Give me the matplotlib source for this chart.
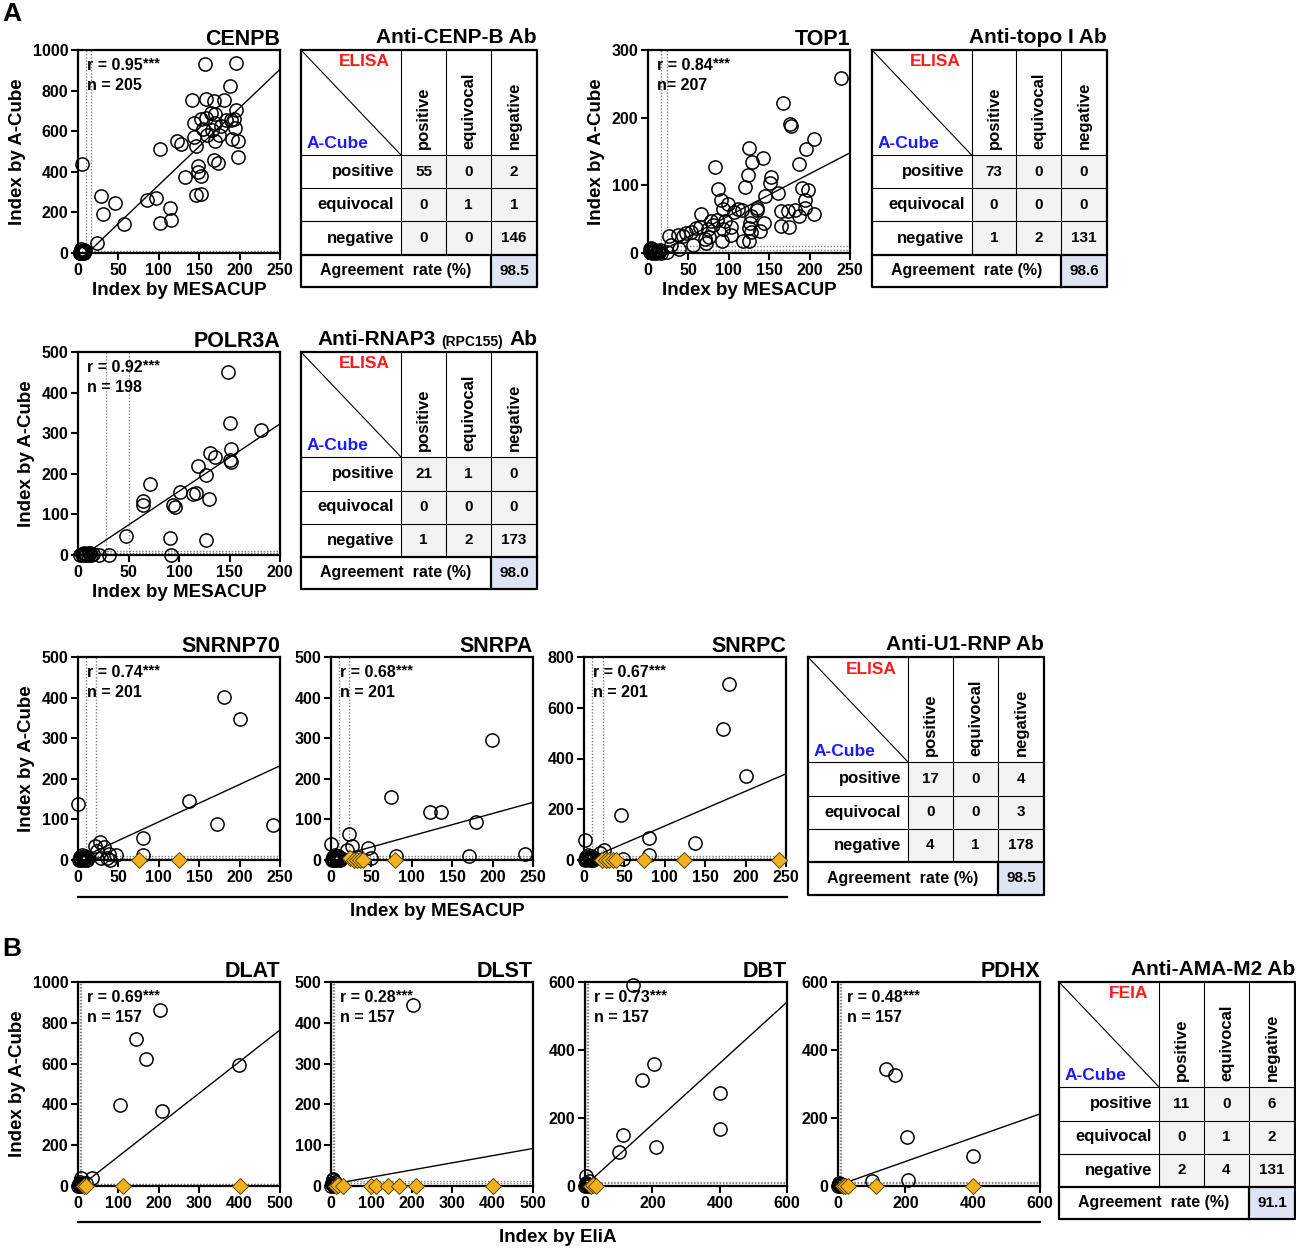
import numpy as np
import matplotlib
matplotlib.use('Agg')
import matplotlib.pyplot as plt
from matplotlib.patches import Rectangle
from matplotlib.lines import Line2D

plt.rcParams['font.family'] = ['Liberation Sans', 'DejaVu Sans']
plt.rcParams['font.weight'] = 'bold'
plt.rcParams['axes.labelweight'] = 'bold'
plt.rcParams['axes.titleweight'] = 'bold'

W, H = 1296, 1248

# ---------------- data ----------------
# CENPB
cenpb_x = [5, 28, 31, 46, 57, 24, 86, 96, 102, 102, 114, 115, 123, 128, 132, 141, 143, 144, 146, 146,
           149, 148, 152, 152, 157, 158, 152, 155, 158, 160, 166, 164, 168, 170, 170, 170, 168, 173,
           175, 177, 181, 183, 188, 189, 190, 193, 194, 195, 196, 198, 198,
           2, 3, 4, 5, 6, 7, 8, 9, 4, 6, 3, 8]
cenpb_y = [439, 282, 191, 246, 144, 48, 259, 269, 513, 149, 224, 162, 551, 536, 376, 754, 640, 571, 525, 285,
           431, 398, 378, 292, 929, 759, 660, 611, 667, 582, 607, 690, 751, 686, 640, 550, 459, 442,
           582, 627, 756, 657, 825, 657, 564, 662, 616, 936, 703, 475, 554,
           0, 5, 12, 2, 8, 0, 4, 10, 18, 3, 0, 15]
cenpb_fit = (3.8, -45)

# TOP1
top1_x = [239, 167, 176, 177, 205, 196, 125, 129, 142, 83, 124, 120, 187, 152, 151, 161, 190, 198, 194, 194,
          205, 187, 173, 165, 182, 175, 164, 87, 90, 99, 93, 107, 112, 116, 135, 135, 145, 144, 138, 126,
          127, 125, 128, 117, 125, 93, 95, 92, 103, 103, 78, 80, 74, 85, 64, 65, 60, 53, 47, 43, 37, 26,
          56, 72, 76, 71, 38, 29, 23, 12, 4,
          2, 3, 5, 6, 8, 9, 10, 12, 14, 15, 4, 7, 16]
top1_y = [258, 222, 191, 187, 169, 154, 155, 134, 140, 127, 116, 97, 131, 113, 103, 88, 96, 93, 78, 66,
          58, 54, 62, 62, 64, 39, 40, 95, 78, 72, 65, 60, 65, 64, 67, 64, 84, 45, 33, 44,
          54, 37, 31, 18, 18, 36, 47, 17, 39, 27, 47, 42, 35, 49, 39, 57, 37, 31, 30, 25, 27, 25,
          12, 15, 23, 20, 6, 12, 1, 3, 6,
          2, 6, 0, 4, 1, 5, 0, 3, 1, 4, 8, 2, 0]
top1_fit = (0.62, -7)

# POLR3A
polr3a_x = [149, 150, 151, 150, 151, 181, 131, 136, 119, 127, 130, 114, 117, 101, 71, 64, 64, 94, 96,
            48, 91, 127, 92, 31, 21,
            2, 4, 5, 7, 8, 10, 12, 13, 15, 6, 11]
polr3a_y = [451, 326, 262, 233, 230, 308, 251, 241, 220, 197, 138, 150, 152, 154, 174, 132, 123, 123, 117,
            46, 41, 37, 0, 0, 0,
            0, 2, 0, 3, 0, 1, 4, 0, 2, 5, 6]
polr3a_fit = (1.66, -9)

# SNRNP70
snrnp70_x = [181, 200, 137, 172, 241, 0, 81, 81, 27, 21, 32, 24, 38, 47, 28, 40, 36,
             1, 2, 3, 4, 5, 6, 7, 8, 9, 10, 11, 12]
snrnp70_y = [401, 347, 146, 88, 86, 137, 55, 12, 44, 35, 33, 21, 15, 12, 4, 0, 6,
             0, 3, 8, 1, 12, 4, 0, 6, 10, 2, 0, 5]
snrnp70_dx = [75, 125]
snrnp70_dy = [0, 0]
snrnp70_fit = (0.92, 2)

# SNRPA
snrpa_x = [199, 74, 123, 136, 179, 171, 240, 0, 22, 26, 20, 46, 49, 80, 32,
           1, 2, 3, 4, 5, 6, 7, 8, 9, 10, 11, 12]
snrpa_y = [296, 155, 119, 119, 93, 9, 16, 40, 65, 35, 25, 30, 5, 9, 8,
           0, 3, 8, 1, 12, 4, 0, 6, 10, 2, 0, 5]
snrpa_dx = [24, 28, 32, 36, 39, 79]
snrpa_dy = [4, 0, 0, 0, 0, 0]
snrpa_fit = (0.55, 4.5)

# SNRPC
snrpc_x = [180, 172, 201, 46, 137, 81, 81, 1, 25, 20, 48,
           1, 2, 3, 4, 5, 6, 7, 8, 9, 10, 11, 12]
snrpc_y = [693, 517, 333, 176, 66, 86, 20, 79, 39, 26, 3,
           0, 5, 12, 2, 18, 6, 0, 9, 14, 3, 0, 7]
snrpc_dx = [22, 27, 31, 36, 40, 74, 124, 241]
snrpc_dy = [0, 0, 0, 0, 0, 0, 0, 0]
snrpc_fit = (1.37, -3)

# DLAT
dlat_x = [203, 143, 169, 104, 209, 399, 34, 8, 19,
          1, 2, 3, 4, 5, 6, 8, 10, 12, 15]
dlat_y = [862, 720, 623, 395, 367, 593, 41, 41, 16,
          0, 5, 12, 2, 20, 8, 0, 3, 10, 5]
dlat_dx = [15, 20, 112, 401]
dlat_dy = [0, 2, 0, 0]
dlat_fit = (1.55, -10)

# DLST
dlst_x = [202, 1, 2, 3, 4, 5, 6, 7, 8, 9, 10]
dlst_y = [443, 0, 4, 8, 14, 2, 18, 6, 0, 10, 3]
dlst_dx = [13, 18, 30, 100, 112, 142, 168, 210, 401]
dlst_dy = [0, 2, 0, 0, 0, 0, 0, 0, 0]
dlst_fit = (0.176, 4)

# DBT
dbt_x = [143, 204, 170, 401, 401, 112, 102, 210, 4, 12,
         1, 2, 3, 5, 6, 8, 10, 14]
dbt_y = [590, 358, 313, 273, 168, 151, 99, 114, 28, 15,
         0, 4, 10, 2, 7, 0, 5, 2]
dbt_dx = [17, 25, 34]
dbt_dy = [0, 2, 0]
dbt_fit = (0.9, 1)

# PDHX
pdhx_x = [143, 170, 204, 400, 101, 209,
          1, 2, 3, 5, 6, 8, 10, 14]
pdhx_y = [343, 326, 144, 87, 15, 17,
          0, 4, 10, 2, 7, 0, 5, 2]
pdhx_dx = [15, 22, 31, 113, 400]
pdhx_dy = [0, 0, 0, 0, 0]
pdhx_fit = (0.35, 2)

# concordance tables
cenpb_table = [[55, 0, 2], [0, 1, 1], [0, 0, 146]]
cenpb_rate = 98.5
topo_table = [[73, 0, 0], [0, 0, 0], [1, 2, 131]]
topo_rate = 98.6
rnap_table = [[21, 1, 0], [0, 0, 0], [1, 2, 173]]
rnap_rate = 98.0
u1_table = [[17, 0, 4], [0, 0, 3], [4, 1, 178]]
u1_rate = 98.5
ama_table = [[11, 0, 6], [0, 1, 2], [2, 4, 131]]
ama_rate = 91.1
categories = ['positive', 'equivocal', 'negative']

GOLD = '#F2B01E'
DOT = dict(color='#808080', lw=1.0, ls=(0, (1, 1.3)), zorder=1)

fig = plt.figure(figsize=(W / 100, H / 100), dpi=100)


def px_rect(x0, y0, x1, y1):
    return [x0 / W, 1 - y1 / H, (x1 - x0) / W, (y1 - y0) / H]


def scatter_panel(box, name, x, y, fit, xmax, ymax, xstep, ystep, vcut, hcut, r, n,
                  dx=None, dy=None, xlabel=None, ylabel=True):
    ax = fig.add_axes(px_rect(*box))
    for v in vcut:
        ax.axvline(v, **DOT)
    for h in hcut:
        ax.axhline(h, **DOT)
    xs = np.array([0, xmax])
    ax.plot(xs, fit[0] * xs + fit[1], color='black', lw=1.0, zorder=2)
    ax.plot(x, y, 'o', ms=9.5, mfc='none', mec='black', mew=1.1, clip_on=False, zorder=3)
    if dx is not None:
        ax.plot(dx, dy, 'D', ms=8.5, mfc=GOLD, mec='#5a4500', mew=0.7, clip_on=False, zorder=4)
    ax.set_xlim(0, xmax)
    ax.set_ylim(0, ymax)
    ax.set_xticks(np.arange(0, xmax + 1, xstep))
    ax.set_yticks(np.arange(0, ymax + 1, ystep))
    ax.tick_params(direction='out', length=5, width=1.5, labelsize=11.5, pad=2)
    for s in ax.spines.values():
        s.set_linewidth(1.6)
    ax.set_title(name, loc='right', fontsize=15.5, pad=1)
    t = ax.text(0.045, 0.925, r, transform=ax.transAxes, va='center', fontsize=11.5)
    ax.annotate('***', xy=(1, 0.62), xycoords=t, va='center', fontsize=10.5)
    ax.text(0.045, 0.825, n, transform=ax.transAxes, va='center', fontsize=11.5)
    if ylabel:
        ax.set_ylabel('Index by A-Cube', fontsize=13.5, labelpad=5)
    if xlabel:
        ax.set_xlabel(xlabel, fontsize=13.5, labelpad=3)
    return ax


def draw_table(box, title, method, counts, rate, small=None):
    ax = fig.add_axes(px_rect(*box))
    w = box[2] - box[0]
    h = box[3] - box[1]
    ax.set_xlim(0, w)
    ax.set_ylim(h, 0)
    ax.axis('off')
    k = w / 236
    cols = [0, 100 * k, 145 * k, 190 * k, w]
    rows = [0, 105, 138.5, 171.5, 205, h]
    for i in range(3):
        for j in range(3):
            ax.add_patch(Rectangle((cols[j + 1], rows[i + 1]), cols[j + 2] - cols[j + 1],
                                   rows[i + 2] - rows[i + 1], fc='#f3f3f3', ec='none'))
    ax.add_patch(Rectangle((cols[3], rows[4]), cols[4] - cols[3], rows[5] - rows[4],
                           fc='#dde5f5', ec='none'))
    thin = dict(color='black', lw=0.8, clip_on=False)
    thick = dict(color='black', lw=1.6, clip_on=False)
    for c in cols[1:4]:
        ax.plot([c, c], [0, rows[4]], **thin)
    for r_ in rows[1:4]:
        ax.plot([0, w], [r_, r_], **thin)
    ax.plot([0, w], [rows[4], rows[4]], **thick)
    ax.plot([cols[3], cols[3]], [rows[4], h], **thick)
    ax.plot([0, w, w, 0, 0], [0, 0, h, h, 0], **thick)
    ax.plot([0, cols[1]], [0, rows[1]], **thin)
    ax.text(cols[1] - 11, 12, method, color='#ff1a1a', ha='right', va='center', fontsize=12.5)
    ax.text(6, 94, 'A-Cube', color='#1a1aff', ha='left', va='center', fontsize=12.5)
    for j, cat in enumerate(categories):
        cx = (cols[j + 1] + cols[j + 2]) / 2
        ax.text(cx, rows[1] - 6, cat, rotation=90, ha='center', va='bottom', fontsize=12)
        cy = (rows[j + 1] + rows[j + 2]) / 2
        ax.text(cols[1] - 7, cy, cat, ha='right', va='center', fontsize=12)
        for i in range(3):
            ax.text((cols[i + 1] + cols[i + 2]) / 2, cy, str(counts[j][i]),
                    ha='center', va='center', fontsize=11)
    ya = (rows[4] + rows[5]) / 2
    ax.text(cols[3] / 2, ya, 'Agreement  rate (%)', ha='center', va='center', fontsize=11.5)
    ax.text((cols[3] + cols[4]) / 2, ya, f'{rate:.1f}', ha='center', va='center', fontsize=11)
    if small is None:
        ax.text(w, -3, title, ha='right', va='bottom', fontsize=15)
    else:
        t_ab = ax.text(w, -3, 'Ab', ha='right', va='bottom', fontsize=15)
        t_s = ax.annotate(small, xy=(0, 0), xycoords=t_ab, xytext=(-4, 0),
                          textcoords='offset points', ha='right', va='bottom', fontsize=10)
        ax.annotate(title, xy=(0, 0), xycoords=t_s, xytext=(-4, 0),
                    textcoords='offset points', ha='right', va='bottom', fontsize=15)
    return ax


# ---------------- panel A ----------------
fig.text(2 / W, 1 - 2 / H, 'A', ha='left', va='top', fontsize=19)

scatter_panel((78, 50, 280, 253), 'CENPB', cenpb_x, cenpb_y, cenpb_fit, 250, 1000, 50, 200,
              [10, 16], [5, 10], 'r = 0.95', 'n = 205', xlabel='Index by MESACUP')
draw_table((301, 50, 537, 287), 'Anti-CENP-B Ab', 'ELISA', cenpb_table, cenpb_rate)

scatter_panel((648, 50, 850, 253), 'TOP1', top1_x, top1_y, top1_fit, 250, 300, 50, 100,
              [16, 24], [5, 10], 'r = 0.84', 'n= 207', xlabel='Index by MESACUP')
draw_table((872, 50, 1107, 287), 'Anti-topo I Ab', 'ELISA', topo_table, topo_rate)

scatter_panel((78, 352, 280, 555), 'POLR3A', polr3a_x, polr3a_y, polr3a_fit, 200, 500, 50, 100,
              [28, 50], [5, 10], 'r = 0.92', 'n = 198', xlabel='Index by MESACUP')
draw_table((301, 352, 537, 589), 'Anti-RNAP3', 'ELISA', rnap_table, rnap_rate, small='(RPC155)')

scatter_panel((78, 657, 280, 860), 'SNRNP70', snrnp70_x, snrnp70_y, snrnp70_fit, 250, 500, 50, 100,
              [10, 22], [5, 10], 'r = 0.74', 'n = 201', dx=snrnp70_dx, dy=snrnp70_dy)
scatter_panel((331, 657, 533, 860), 'SNRPA', snrpa_x, snrpa_y, snrpa_fit, 250, 500, 50, 100,
              [9.5, 22], [5, 10], 'r = 0.68', 'n = 201', dx=snrpa_dx, dy=snrpa_dy, ylabel=False)
scatter_panel((584, 657, 786, 860), 'SNRPC', snrpc_x, snrpc_y, snrpc_fit, 250, 800, 50, 200,
              [10, 23], [8, 16], 'r = 0.67', 'n = 201', dx=snrpc_dx, dy=snrpc_dy, ylabel=False)
draw_table((808, 657, 1044, 895), 'Anti-U1-RNP Ab', 'ELISA', u1_table, u1_rate)

fig.add_artist(Line2D([78 / W, 787 / W], [1 - 897 / H, 1 - 897 / H], color='black', lw=1.6))
fig.text(437 / W, 1 - 911 / H, 'Index by MESACUP', ha='center', va='center', fontsize=13.5)

# ---------------- panel B ----------------
fig.text(2 / W, 1 - 937 / H, 'B', ha='left', va='top', fontsize=19)

scatter_panel((78, 982, 280, 1186), 'DLAT', dlat_x, dlat_y, dlat_fit, 500, 1000, 100, 200,
              [5, 8], [8, 12], 'r = 0.69', 'n = 157', dx=dlat_dx, dy=dlat_dy)
scatter_panel((331, 982, 533, 1186), 'DLST', dlst_x, dlst_y, dlst_fit, 500, 500, 100, 100,
              [5, 8], [8, 12], 'r = 0.28', 'n = 157', dx=dlst_dx, dy=dlst_dy, ylabel=False)
scatter_panel((585, 982, 787, 1186), 'DBT', dbt_x, dbt_y, dbt_fit, 600, 600, 200, 200,
              [5, 8], [8, 12], 'r = 0.73', 'n = 157', dx=dbt_dx, dy=dbt_dy, ylabel=False)
scatter_panel((838, 982, 1040, 1186), 'PDHX', pdhx_x, pdhx_y, pdhx_fit, 600, 600, 200, 200,
              [5, 8], [8, 12], 'r = 0.48', 'n = 157', dx=pdhx_dx, dy=pdhx_dy, ylabel=False)
draw_table((1059, 982, 1295, 1219), 'Anti-AMA-M2 Ab', 'FEIA', ama_table, ama_rate)

fig.add_artist(Line2D([78 / W, 1040 / W], [1 - 1222 / H, 1 - 1222 / H], color='black', lw=1.6))
fig.text(558 / W, 1 - 1237 / H, 'Index by EliA', ha='center', va='center', fontsize=13.5)

fig.savefig('out.png', dpi=100)
